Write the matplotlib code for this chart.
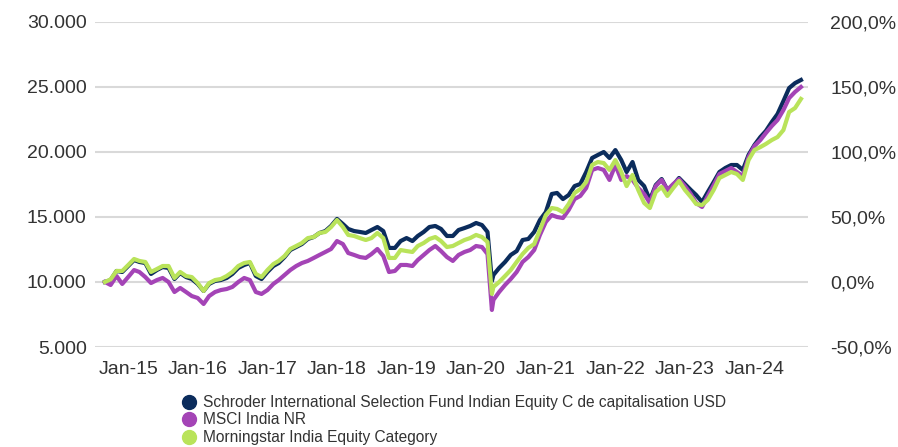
import numpy as np
import pandas as pd
import matplotlib
matplotlib.use("Agg")
import matplotlib.pyplot as plt
import matplotlib.dates as mdates
from matplotlib.lines import Line2D
from matplotlib.ticker import FuncFormatter

plt.rcParams["font.family"] = ["Liberation Sans", "DejaVu Sans"]

# dates: month starts Sep-2014 .. Sep-2024, plus the Covid low of Mar-2020
dates = list(pd.date_range("2014-09-01", "2024-09-01", freq="MS"))
dates.insert(dates.index(pd.Timestamp("2020-04-01")), pd.Timestamp("2020-03-24"))

fund = [
    10000, 10150, 10850, 10770,
    11230, 11690, 11540, 11460, 10620, 10920, 11150, 11080, 10230, 10690, 10380, 10230,
    9850, 9310, 9850, 10080, 10150, 10310, 10620, 11080, 11310, 11460, 10460, 10230,
    10770, 11230, 11460, 11920, 12460, 12690, 12920, 13310, 13460, 13770, 13920, 14310,
    14850, 14460, 14080, 13920, 13850, 13770, 14000, 14230, 13920, 12620, 12620, 13150,
    13380, 13150, 13540, 13850, 14230, 14310, 14080, 13540, 13540, 14000, 14150, 14310,
    14540, 14380, 13850, 10080, 10540, 11080, 11540, 12080, 12380, 13230, 13310, 13850, 14770,
    15380, 16770, 16850, 16380, 16690, 17380, 17540, 18460, 19540, 19770, 20000, 19540,
    20150, 19380, 18460, 19230, 17850, 17380, 16310, 17460, 17920, 17080, 17460, 18000,
    17540, 17080, 16690, 16150, 16920, 17690, 18460, 18770, 19000, 19000, 18620, 19770,
    20540, 21150, 21620, 22310, 22920, 23920, 24920, 25300, 25540,
]

msci = [
    10000, 9770, 10460, 9850,
    10380, 10920, 10770, 10380, 9920, 10150, 10310, 10000, 9230, 9540, 9230, 8920,
    8770, 8310, 8920, 9230, 9380, 9460, 9620, 10000, 10310, 10150, 9230, 9080,
    9380, 9850, 10150, 10540, 10920, 11230, 11460, 11620, 11850, 12080, 12310, 12540,
    13150, 12920, 12230, 12080, 11920, 11850, 12150, 12540, 12000, 10770, 10850, 11310,
    11310, 11230, 11690, 12080, 12460, 12770, 12380, 11920, 11620, 12080, 12310, 12460,
    12770, 12690, 12150, 7850, 8620, 9230, 9770, 10230, 10770, 11540, 11920, 12460, 13620,
    14620, 15150, 15000, 14920, 15540, 16380, 16620, 17230, 18620, 18770, 18620, 17850,
    19000, 17850, 18150, 17850, 17230, 16770, 16080, 17380, 17850, 17080, 17540, 17920,
    17380, 16770, 16080, 15770, 16620, 17460, 18310, 18540, 18770, 18460, 18150, 19620,
    20460, 20920, 21460, 22000, 22460, 23230, 24150, 24620, 25000,
]

category = [
    10000, 10200, 10850, 10850,
    11300, 11770, 11620, 11540, 10770, 11000, 11230, 11230, 10310, 10770, 10460, 10380,
    9920, 9310, 9920, 10150, 10230, 10460, 10770, 11230, 11460, 11540, 10620, 10380,
    10920, 11380, 11620, 12000, 12540, 12770, 13000, 13380, 13460, 13770, 13850, 14230,
    14770, 14230, 13620, 13540, 13380, 13230, 13380, 13770, 13380, 11850, 11850, 12460,
    12380, 12310, 12770, 13000, 13310, 13460, 13150, 12690, 12770, 13000, 13230, 13380,
    13620, 13460, 13080, 9080, 9620, 10000, 10460, 10920, 11540, 12150, 12620, 12920, 14000,
    15150, 15690, 15620, 15380, 16000, 16850, 17150, 17690, 19000, 19230, 19150, 18620,
    19380, 18460, 17380, 18230, 17080, 16080, 15690, 16920, 17310, 16620, 17230, 17770,
    17080, 16540, 16000, 15920, 16310, 17080, 18000, 18230, 18460, 18310, 17850, 19380,
    20150, 20380, 20620, 20920, 21150, 21690, 23080, 23380, 24080,
]

labels = [
    "Schroder International Selection Fund Indian Equity C de capitalisation USD",
    "MSCI India NR",
    "Morningstar India Equity Category",
]
colors = ["#0b2c5c", "#a444b6", "#b9e35a"]
series = [fund, msci, category]

fig = plt.figure(figsize=(8.98, 4.47), dpi=100)
ax = fig.add_axes([95 / 898, 1 - 347 / 447, 713 / 898, 325 / 447])

for vals, c in zip(series, colors):
    ax.plot(dates, vals, color=c, linewidth=3.0, solid_joinstyle="round")

ax.set_ylim(5000, 30000)
ax.set_yticks(np.arange(5000, 30001, 5000))
ax.yaxis.set_major_formatter(FuncFormatter(lambda v, p: f"{int(v):,}".replace(",", ".")))
ax.set_xlim(mdates.date2num(pd.Timestamp("2014-07-11")), mdates.date2num(pd.Timestamp("2024-10-08")))
ax.xaxis.set_major_locator(mdates.YearLocator(month=1, day=1))
ax.xaxis.set_major_formatter(mdates.DateFormatter("%b-%y"))
ax.grid(axis="y", color="#d9d9d9", linewidth=1.5)
ax.set_axisbelow(True)
for s in ax.spines.values():
    s.set_visible(False)
ax.tick_params(axis="both", length=0, labelsize=14, colors="#333333")
ax.tick_params(axis="y", pad=6)
ax.tick_params(axis="x", pad=10)

ax2 = ax.twinx()
ax2.set_ylim(-50, 200)
ax2.set_yticks(np.arange(-50, 201, 50))
ax2.yaxis.set_major_formatter(FuncFormatter(lambda v, p: f"{v:.1f}%".replace(".", ",")))
for s in ax2.spines.values():
    s.set_visible(False)
ax2.tick_params(axis="y", length=0, labelsize=14, colors="#333333", pad=16)

handles = [Line2D([], [], linestyle="none", marker="o", markersize=10, color=c) for c in colors]
fig.legend(handles, labels, loc="upper left", bbox_to_anchor=(183 / 898, 1 - 395 / 447),
           frameon=False, fontsize=11.2, labelcolor="#333333", handlelength=0.8,
           handletextpad=0.5, labelspacing=0.16, borderpad=0, borderaxespad=0)

fig.savefig("out.png", dpi=100)
